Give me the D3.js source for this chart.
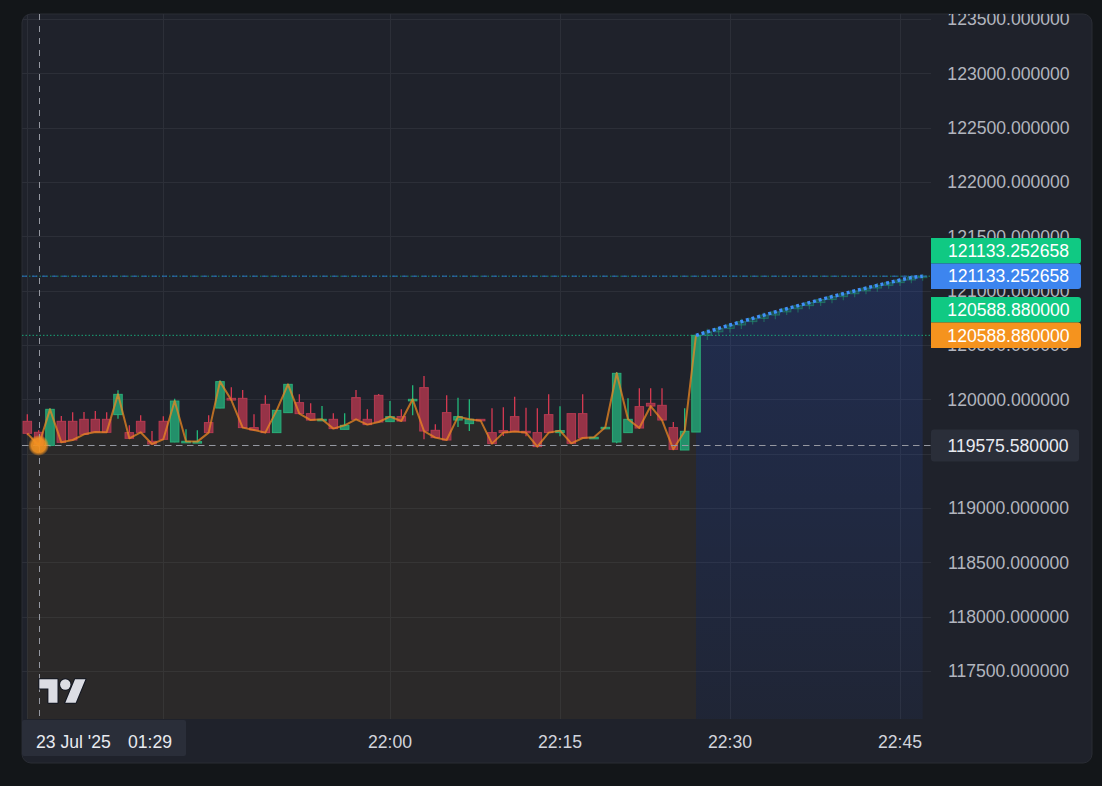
<!DOCTYPE html>
<html><head><meta charset="utf-8">
<script src="https://cdn.jsdelivr.net/npm/d3@7"></script>
<style>html,body{margin:0;padding:0;background:#131619;overflow:hidden}svg{display:block}</style>
</head><body><svg id="c" width="1102" height="786"></svg>
<script>
// ---------- DATA ----------
const candleTimes = ["21:28","21:29","21:30","21:31","21:32","21:33","21:34","21:35","21:36","21:37",
  "21:38","21:39","21:40","21:41","21:42","21:43","21:44","21:45","21:46","21:47",
  "21:48","21:49","21:50","21:51","21:52","21:53","21:54","21:55","21:56","21:57",
  "21:58","21:59","22:00","22:01","22:02","22:03","22:04","22:05","22:06","22:07",
  "22:08","22:09","22:10","22:11","22:12","22:13","22:14","22:15","22:16","22:17",
  "22:18","22:19","22:20","22:21","22:22","22:23","22:24","22:25","22:26","22:27"];
const opens = [119797.6,119696.5,119576.0,119797.6,119797.6,119816.0,119816.0,119816.0,119859.2,119693.7,
  119797.6,119613.7,119797.6,119607.3,119601.8,119601.8,119785.7,119919.9,120009.1,120009.1,
  119739.7,119954.0,119693.7,119877.6,119969.6,119868.4,119806.8,119816.0,119724.0,120015.6,
  119816.0,120036.7,119794.9,119840.8,119993.5,120107.6,119714.9,119877.6,119809.5,119776.5,
  119816.0,119693.7,119712.1,119840.8,119705.7,119693.7,119859.2,119693.7,119868.4,119868.4,
  119644.1,119736.0,119607.3,119693.7,119932.8,119963.2,119944.8,119739.7,119533.6,119699.2];
const highs = [119862.0,119714.9,119917.2,119846.3,119880.4,119883.1,119892.3,119880.4,120082.7,119760.8,
  119852.8,119708.4,119843.6,120006.4,119724.0,119714.9,119852.8,120174.8,120110.4,120085.5,
  119862.0,120036.7,119898.8,120138.0,120045.9,119963.2,119938.3,119871.2,119871.2,120085.5,
  119908.0,120048.7,119984.3,119908.0,120128.8,120214.4,119770.0,120036.7,120015.6,120000.0,
  119816.0,119917.2,119926.4,120024.8,119923.6,119917.2,120045.9,119935.6,119868.4,120045.9,
  119650.5,119742.4,120251.2,120009.1,120101.2,120101.2,120101.2,119791.2,119917.2,120588.88];
const lows = [119668.6,119565.0,119565.0,119601.8,119623.0,119678.1,119696.0,119693.7,119822.4,119638.6,
  119687.3,119585.0,119625.7,119604.5,119601.8,119601.8,119693.7,119917.2,119990.0,119739.7,
  119714.9,119693.7,119693.7,119877.6,119868.4,119809.5,119806.8,119730.5,119724.0,119816.0,
  119767.3,119791.2,119794.9,119800.3,119852.8,119632.1,119647.7,119625.7,119745.2,119708.4,
  119804.0,119592.6,119662.0,119702.9,119659.7,119564.9,119693.7,119659.7,119595.3,119644.1,
  119644.1,119736.0,119595.3,119693.7,119736.0,119846.3,119809.5,119533.6,119533.6,119699.2];
const closes = [119687.3,119575.58,119908.0,119604.5,119625.7,119678.1,119699.2,119696.5,120045.9,119641.3,
  119696.5,119588.9,119632.1,119984.3,119613.7,119611.0,119693.7,120162.8,119993.5,119739.7,
  119717.6,119693.7,119898.8,120138.0,119868.4,119809.5,119816.0,119730.5,119760.8,119816.0,
  119767.3,119791.2,119840.8,119800.3,120000.0,119708.4,119647.7,119625.7,119840.8,119816.0,
  119804.0,119592.6,119693.7,119702.9,119693.7,119564.9,119693.7,119712.1,119595.3,119644.1,
  119650.5,119742.4,120239.2,119816.0,119736.0,119938.3,119809.5,119540.0,119705.7,120588.88];

const forecastTimes = ["22:27","22:28","22:29","22:30","22:31","22:32","22:33","22:34","22:35","22:36",
  "22:37","22:38","22:39","22:40","22:41","22:42","22:43","22:44","22:45","22:46","22:47"];
const forecastValues = [120588.88,120621.1,120652.8,120684.1,120715.0,120745.3,120775.2,120804.7,120833.7,120862.2,
  120890.3,120917.9,120945.1,120971.7,120998.0,121023.7,121049.0,121073.9,121098.3,121120.5,121133.252658];
const fcOpens = [120588.88,120621.1,120652.8,120684.1,120715.0,120745.3,120775.2,120804.7,120833.7,120862.2,
  120890.3,120917.9,120945.1,120971.7,120998.0,121023.7,121049.0,121073.9,121098.3,121120.5];
const fcHighs = [120650,120668,120700,120742,120760,120800,120818,120845,120880,120905,
  120930,120968,120985,121015,121040,121070,121085,121110,121140,121150];
const fcLows = [120545,120585,120612,120648,120688,120712,120738,120776,120800,120828,
  120860,120884,120912,120940,120968,120990,121018,121044,121068,121092];

const priceTicks = [117500,118000,118500,119000,119500,120000,120500,121000,121500,122000,122500,123000,123500];
const timeTicks = ["21:40","22:00","22:15","22:30","22:45"];
const crosshairTime = "21:29";
const crosshairPrice = 119575.58;
const crosshairDateLabel = "23 Jul '25";
const crosshairTimeLabel = "01:29";
const lastCandleValue = 120588.88;
const lastForecastValue = 121133.252658;

// ---------- LAYOUT ----------
const svg = d3.select("#c");
const P = {x:22, y:14, w:1070, h:749};
const plot = {l:22, r:931, t:14, b:719};
const FONT = "'Liberation Sans', Arial, sans-serif";
const FS = 17.6;
const parse = d3.timeParse("%H:%M");

const x = d3.scaleTime().domain([parse("21:28"), parse("22:47")]).range([27.33, 922.67]);
const y = d3.scaleLinear().domain([117500, 123500]).range([671, 19]);
const fmt = d3.format(".6f");

const defs = svg.append("defs");
defs.append("clipPath").attr("id","panel").append("rect")
  .attr("x",P.x).attr("y",P.y).attr("width",P.w).attr("height",P.h).attr("rx",9);
defs.append("clipPath").attr("id","plotc").append("rect")
  .attr("x",plot.l).attr("y",plot.t).attr("width",plot.r-plot.l).attr("height",plot.b-plot.t);
const g1 = defs.append("linearGradient").attr("id","blueg").attr("x1",0).attr("x2",0).attr("y1",0).attr("y2",1);
g1.append("stop").attr("offset","0%").attr("stop-color","rgb(41,98,255)").attr("stop-opacity",0.17);
g1.append("stop").attr("offset","100%").attr("stop-color","rgb(41,98,255)").attr("stop-opacity",0.05);
const glow = defs.append("radialGradient").attr("id","glow");
glow.append("stop").attr("offset","0%").attr("stop-color","#f39220").attr("stop-opacity",0.95);
glow.append("stop").attr("offset","68%").attr("stop-color","#f39220").attr("stop-opacity",0.9);
glow.append("stop").attr("offset","85%").attr("stop-color","#f39220").attr("stop-opacity",0.5);
glow.append("stop").attr("offset","100%").attr("stop-color","#f39220").attr("stop-opacity",0.0);

svg.append("rect").attr("width",1102).attr("height",786).attr("fill","#131619");
svg.append("rect").attr("x",P.x).attr("y",P.y).attr("width",P.w).attr("height",P.h).attr("rx",9)
  .attr("fill","#1f222b").attr("stroke","#2a2d35").attr("stroke-width",1);

const root = svg.append("g").attr("clip-path","url(#panel)");
const pg = root.append("g").attr("clip-path","url(#plotc)");

// grid
pg.append("g").selectAll("line").data(priceTicks).join("line")
  .attr("x1",plot.l).attr("x2",plot.r).attr("y1",d=>Math.round(y(d))+0.5).attr("y2",d=>Math.round(y(d))+0.5)
  .attr("stroke","#2c2f38").attr("stroke-width",1);
pg.append("g").selectAll("line").data(timeTicks.concat([candleTimes[0]])).join("line")
  .attr("x1",d=>Math.round(x(parse(d)))+0.5).attr("x2",d=>Math.round(x(parse(d)))+0.5)
  .attr("y1",plot.t).attr("y2",plot.b)
  .attr("stroke","#2c2f38").attr("stroke-width",1);

// areas
const cData = candleTimes.map((t,i)=>({t:parse(t),o:opens[i],h:highs[i],l:lows[i],c:closes[i]}));
const fData = forecastTimes.map((t,i)=>({t:parse(t),v:forecastValues[i]}));
pg.append("path").datum(cData)
  .attr("d", d3.area().x(d=>x(d.t)).y0(plot.b).y1(d=>y(d.c)))
  .attr("fill","rgba(130,100,30,0.12)");
pg.append("path").datum(fData)
  .attr("d", d3.area().x(d=>x(d.t)).y0(plot.b).y1(d=>y(d.v)))
  .attr("fill","url(#blueg)");

// candles
const bw = 8.5;
const up = d=>d.c>=d.o;
pg.append("g").selectAll("line").data(cData).join("line")
  .attr("x1",d=>x(d.t)).attr("x2",d=>x(d.t))
  .attr("y1",d=>y(d.h)).attr("y2",d=>y(d.l))
  .attr("stroke",d=>up(d)?"#22b87a":"#d63a52").attr("stroke-width",1.3);
pg.append("g").selectAll("rect").data(cData).join("rect")
  .attr("x",d=>x(d.t)-bw/2).attr("width",bw)
  .attr("y",d=>y(Math.max(d.o,d.c)))
  .attr("height",d=>Math.max(1.5,Math.abs(y(d.o)-y(d.c))))
  .attr("fill",d=>up(d)?"#23906a":"#963347")
  .attr("stroke",d=>up(d)?"#2aae78":"#b53a51").attr("stroke-width",1);

// orange close line
pg.append("path").datum(cData)
  .attr("d", d3.line().x(d=>x(d.t)).y(d=>y(d.c)))
  .attr("fill","none").attr("stroke","rgba(235,135,35,0.75)").attr("stroke-width",2).attr("stroke-linejoin","round");

// forecast candles
const fcData = forecastTimes.slice(1).map((t,i)=>({t:parse(t),o:fcOpens[i],c:forecastValues[i+1],h:fcHighs[i],l:fcLows[i]}));
pg.append("g").selectAll("line").data(fcData).join("line")
  .attr("x1",d=>x(d.t)).attr("x2",d=>x(d.t)).attr("y1",d=>y(d.h)).attr("y2",d=>y(d.l))
  .attr("stroke","rgba(34,171,120,0.45)").attr("stroke-width",1.2);
pg.append("g").selectAll("rect").data(fcData).join("rect")
  .attr("x",d=>x(d.t)-bw/2).attr("width",bw)
  .attr("y",d=>y(Math.max(d.o,d.c))).attr("height",d=>Math.max(1.5,Math.abs(y(d.o)-y(d.c))))
  .attr("fill","rgba(34,150,110,0.3)").attr("stroke","rgba(34,171,120,0.45)").attr("stroke-width",1);

// price lines
pg.append("line").attr("x1",plot.l).attr("x2",plot.r).attr("y1",y(lastCandleValue)).attr("y2",y(lastCandleValue))
  .attr("stroke","#1aa577").attr("stroke-width",1).attr("stroke-dasharray","1.5,2");
pg.append("line").attr("x1",plot.l).attr("x2",plot.r).attr("y1",y(lastForecastValue)).attr("y2",y(lastForecastValue))
  .attr("stroke","#1a8f6c").attr("stroke-width",1).attr("stroke-dasharray","1.5,2");
pg.append("line").attr("x1",plot.l).attr("x2",plot.r).attr("y1",y(lastForecastValue)).attr("y2",y(lastForecastValue))
  .attr("stroke","#2d6cc0").attr("stroke-width",1).attr("stroke-dasharray","5,5");

// blue forecast dotted line
pg.append("path").datum(fData)
  .attr("d", d3.line().x(d=>x(d.t)).y(d=>y(d.v)))
  .attr("fill","none").attr("stroke","#3f8ff7").attr("stroke-width",3.5).attr("stroke-dasharray","3,2.8");

// crosshair
const cx = x(parse(crosshairTime)), cy = y(crosshairPrice);
pg.append("line").attr("x1",Math.round(cx)+0.5).attr("x2",Math.round(cx)+0.5).attr("y1",plot.t).attr("y2",plot.b)
  .attr("stroke","#9598a1").attr("stroke-width",1).attr("stroke-dasharray","6,6");
pg.append("line").attr("x1",plot.l).attr("x2",plot.r).attr("y1",Math.round(cy)+0.5).attr("y2",Math.round(cy)+0.5)
  .attr("stroke","#9598a1").attr("stroke-width",1).attr("stroke-dasharray","6.5,4.5");
pg.append("circle").attr("cx",cx).attr("cy",cy).attr("r",10.5).attr("fill","url(#glow)");

// logo
const logo = root.append("g").attr("transform","translate(39.3,674.1) scale(1.3)");
logo.append("path").attr("d","M14 22H7V11H0V4h14v18zM28 22h-8l7.5-18h8L28 22z")
  .attr("fill","#dcdde4").attr("stroke","#131722").attr("stroke-width",1.6).attr("paint-order","stroke").attr("stroke-linejoin","round");
logo.append("circle").attr("cx",20).attr("cy",8).attr("r",4)
  .attr("fill","#dcdde4").attr("stroke","#131722").attr("stroke-width",1.6).attr("paint-order","stroke");

// price axis labels (the one fully covered by the crosshair label is not drawn)
const visiblePriceLabels = priceTicks.filter(d=>Math.abs(y(d)-y(crosshairPrice))>16);
root.append("g").selectAll("text").data(visiblePriceLabels).join("text")
  .attr("x",1008.5).attr("y",d=>y(d)+6.3).attr("text-anchor","middle")
  .attr("font-family",FONT).attr("font-size",FS).attr("fill","#b2b5be")
  .text(d=>fmt(d));

// time axis labels (the one hidden under the crosshair time label is not drawn)
const visibleTimeLabels = timeTicks.filter(d=>x(parse(d))>200);
root.append("g").selectAll("text").data(visibleTimeLabels).join("text")
  .attr("x",d=>x(parse(d))).attr("y",747.5).attr("text-anchor","middle")
  .attr("font-family",FONT).attr("font-size",FS).attr("fill","#d1d4dc")
  .text(d=>d);

// tags
function tag(val, centerY, color, h){
  const gg = root.append("g");
  gg.append("path").attr("d",`M931,${centerY-h/2}H1078a3,3 0 0 1 3,3V${centerY+h/2-3}a3,3 0 0 1 -3,3H931Z`).attr("fill",color);
  gg.append("text").attr("x",1008.5).attr("y",centerY+6.3).attr("text-anchor","middle")
    .attr("font-family",FONT).attr("font-size",FS).attr("fill","#ffffff").text(fmt(val));
}
tag(lastForecastValue, y(lastForecastValue)-25.5, "#10c983", 25.5);
tag(lastForecastValue, y(lastForecastValue), "#3d85ef", 25.5);
tag(lastCandleValue, y(lastCandleValue)-25.5, "#10c983", 25.5);
tag(lastCandleValue, y(lastCandleValue), "#f5931e", 25.5);

// crosshair price label
root.append("rect").attr("x",931).attr("y",cy-16).attr("width",148).attr("height",32).attr("rx",3).attr("fill","#2a2e39");
root.append("text").attr("x",1008).attr("y",cy+6.3).attr("text-anchor","middle")
  .attr("font-family",FONT).attr("font-size",FS).attr("fill","#e8eaf0").text(fmt(crosshairPrice));

// crosshair time label
root.append("rect").attr("x",22).attr("y",720).attr("width",164).attr("height",36).attr("rx",2).attr("fill","#2a2e39");
root.append("text").attr("x",36).attr("y",748).attr("font-family",FONT).attr("font-size",FS).attr("fill","#e8eaf0").text(crosshairDateLabel);
root.append("text").attr("x",128).attr("y",748).attr("font-family",FONT).attr("font-size",FS).attr("fill","#e8eaf0").text(crosshairTimeLabel);
</script>
</body></html>
